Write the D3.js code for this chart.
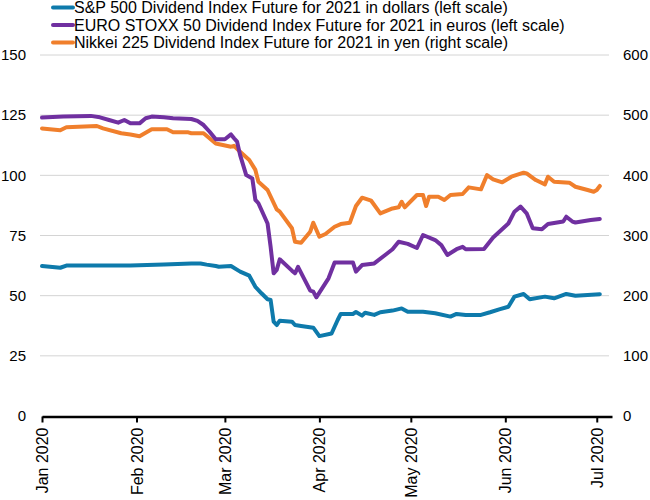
<html>
<head>
<meta charset="utf-8">
<script src="https://d3js.org/d3.v7.min.js"></script>
<style>
  body { margin: 0; background: #fff; }
  text { font-family: "Liberation Sans", Arial, sans-serif; fill: #000; }
</style>
</head>
<body>
<svg width="650" height="500"></svg>
<script>
// values: [date, value]
var spDividend = [
  ["2020-01-01",62.3],["2020-01-07",61.6],["2020-01-09",62.5],["2020-01-30",62.5],["2020-02-10",63],
  ["2020-02-19",63.4],["2020-02-22",63.4],["2020-02-24",62.9],["2020-02-27",62.3],["2020-02-28",62],
  ["2020-03-03",62.3],["2020-03-06",60],["2020-03-09",58.3],["2020-03-11",53.7],["2020-03-13",51],
  ["2020-03-15",48.5],["2020-03-16",48.2],["2020-03-17",39.2],["2020-03-18",37.8],["2020-03-19",39.6],
  ["2020-03-23",39.2],["2020-03-24",37.8],["2020-03-26",37.4],["2020-03-30",36.7],["2020-04-01",33.2],
  ["2020-04-05",34.3],["2020-04-07",39.9],["2020-04-08",42.4],["2020-04-12",42.4],["2020-04-13",43.2],
  ["2020-04-15",41.7],["2020-04-16",42.9],["2020-04-19",42],["2020-04-21",43.1],["2020-04-25",43.8],
  ["2020-04-28",44.7],["2020-04-30",43.3],["2020-05-05",43.3],["2020-05-09",42.7],["2020-05-14",41.3],
  ["2020-05-16",42.4],["2020-05-19",42],["2020-05-24",42],["2020-05-27",43.1],["2020-05-30",44.3],
  ["2020-06-02",45.4],["2020-06-04",49.6],["2020-06-07",50.7],["2020-06-09",48.5],["2020-06-14",49.6],
  ["2020-06-17",48.9],["2020-06-21",50.7],["2020-06-24",50],["2020-07-02",50.6]
];

var euroStoxx = [
  ["2020-01-01",124],["2020-01-08",124.4],["2020-01-17",124.7],["2020-01-20",124.1],["2020-01-23",123],
  ["2020-01-26",121.9],["2020-01-28",123],["2020-01-30",121.6],["2020-02-02",121.6],["2020-02-04",123.7],
  ["2020-02-06",124.4],["2020-02-10",124.1],["2020-02-13",123.7],["2020-02-19",123.4],["2020-02-21",122.6],
  ["2020-02-23",120.9],["2020-02-25",118.1],["2020-02-27",115],["2020-03-01",115],["2020-03-03",117],
  ["2020-03-04",115.4],["2020-03-05",114],["2020-03-06",108.4],["2020-03-08",100.1],["2020-03-10",98.7],
  ["2020-03-11",89.8],["2020-03-12",88.4],["2020-03-15",80],["2020-03-16",70.3],["2020-03-17",59.3],
  ["2020-03-18",60.7],["2020-03-19",65.1],["2020-03-23",60.4],["2020-03-24",59.3],["2020-03-25",62],
  ["2020-03-29",52.1],["2020-03-30",51.7],["2020-03-31",49.3],["2020-04-04",57.2],["2020-04-06",63.8],
  ["2020-04-12",63.8],["2020-04-13",60],["2020-04-15",62.7],["2020-04-19",63.4],["2020-04-23",67.3],
  ["2020-04-25",69.3],["2020-04-27",72.4],["2020-04-30",71.5],["2020-05-03",69.8],["2020-05-05",75.2],
  ["2020-05-09",73.1],["2020-05-11",71],["2020-05-13",66.9],["2020-05-16",69.3],["2020-05-18",70.3],
  ["2020-05-19",69.3],["2020-05-25",69.4],["2020-05-28",74.2],["2020-06-02",80],["2020-06-04",84.9],
  ["2020-06-06",87],["2020-06-08",84.2],["2020-06-10",78],["2020-06-13",77.6],["2020-06-15",79.8],
  ["2020-06-20",80.8],["2020-06-21",82.8],["2020-06-23",80.8],["2020-06-24",80.4],["2020-06-29",81.4],
  ["2020-07-02",81.9]
];

var nikkei = [
  ["2020-01-01",478],["2020-01-07",475],["2020-01-09",480],["2020-01-19",482],["2020-01-21",478],
  ["2020-01-27",470],["2020-01-30",468],["2020-02-02",465],["2020-02-06",476.5],["2020-02-11",476.5],
  ["2020-02-13",471.5],["2020-02-18",471.5],["2020-02-19",470],["2020-02-23",470],["2020-02-27",453],
  ["2020-03-03",447.6],["2020-03-04",449],["2020-03-06",439],["2020-03-09",425.5],["2020-03-11",409],
  ["2020-03-12",389.4],["2020-03-15",375.6],["2020-03-18",343.5],["2020-03-19",339.6],["2020-03-23",312],
  ["2020-03-24",289.7],["2020-03-26",288],["2020-03-29",306.3],["2020-03-30",321.3],["2020-04-01",298],
  ["2020-04-03",302.5],["2020-04-06",314.6],["2020-04-08",319],["2020-04-11",321.3],["2020-04-13",349],
  ["2020-04-15",362.8],["2020-04-18",357.8],["2020-04-21",336.8],["2020-04-25",345],["2020-04-27",346.8],
  ["2020-04-28",356],["2020-04-29",346.8],["2020-05-03",367.3],["2020-05-05",367.3],["2020-05-06",349],
  ["2020-05-07",364.5],["2020-05-10",364.5],["2020-05-12",359],["2020-05-14",367.3],["2020-05-18",369],
  ["2020-05-20",380],["2020-05-24",376.7],["2020-05-26",400.5],["2020-05-28",393.4],["2020-05-31",388.4],
  ["2020-06-03",397.7],["2020-06-07",404.4],["2020-06-08",403.3],["2020-06-11",392.2],["2020-06-14",385],
  ["2020-06-15",397.7],["2020-06-17",389.4],["2020-06-22",387.8],["2020-06-24",381],["2020-06-28",375.6],
  ["2020-06-30",372.8],["2020-07-01",375.6],["2020-07-02",382.3]
];

var seriesNames = [
  "S&P 500 Dividend Index Future for 2021 in dollars (left scale)",
  "EURO STOXX 50 Dividend Index Future for 2021 in euros (left scale)",
  "Nikkei 225 Dividend Index Future for 2021 in yen (right scale)"
];
var seriesColors = ["#0e7aab", "#7030a0", "#f07f2c"];
var leftTicks = [0, 25, 50, 75, 100, 125, 150];
var rightTicks = [0, 100, 200, 300, 400, 500, 600];
var monthTicks = ["2020-01-01","2020-02-01","2020-03-01","2020-04-01","2020-05-01","2020-06-01","2020-07-01"];

var parse = d3.timeParse("%Y-%m-%d");
var svg = d3.select("svg");

var x = d3.scaleTime()
  .domain([parse("2020-01-01"), parse("2020-07-06")])
  .range([42, 612]);
var yL = d3.scaleLinear().domain([0, 150]).range([416, 55]);
var yR = d3.scaleLinear().domain([0, 600]).range([416, 55]);

// gridlines
svg.append("g")
  .selectAll("line")
  .data(leftTicks.slice(1))
  .enter().append("line")
  .attr("x1", 40).attr("x2", 609)
  .attr("y1", d => yL(d)).attr("y2", d => yL(d))
  .attr("stroke", "#d4d4d4").attr("stroke-width", 1);

// left axis
svg.append("g")
  .attr("transform", "translate(26,0)")
  .call(d3.axisLeft(yL).tickValues(leftTicks).tickSize(0).tickPadding(0))
  .call(g => g.select(".domain").remove())
  .selectAll("text").attr("font-size", 15).style("font-family", "'Liberation Sans', Arial, sans-serif");

// right axis
svg.append("g")
  .attr("transform", "translate(623,0)")
  .call(d3.axisRight(yR).tickValues(rightTicks).tickSize(0).tickPadding(0))
  .call(g => g.select(".domain").remove())
  .selectAll("text").attr("font-size", 15).style("font-family", "'Liberation Sans', Arial, sans-serif");

// bottom axis
var xAxis = svg.append("g")
  .attr("transform", "translate(0,416.5)")
  .call(d3.axisBottom(x).tickValues(monthTicks.map(parse)).tickFormat(d3.timeFormat("%b %Y")).tickSize(6).tickSizeOuter(0));
xAxis.select(".domain").attr("stroke", "#000").attr("stroke-width", 2.5);
xAxis.selectAll(".tick line").attr("stroke", "#000").attr("stroke-width", 2);
xAxis.selectAll("text")
  .attr("font-size", 16)
  .style("font-family", "'Liberation Sans', Arial, sans-serif")
  .attr("transform", "rotate(-90)")
  .attr("text-anchor", "end")
  .attr("dy", "0.35em")
  .attr("x", -11).attr("y", 0);

// lines
var allSeries = [
  { data: spDividend, y: yL },
  { data: euroStoxx, y: yL },
  { data: nikkei, y: yR }
];
[2, 1, 0].forEach(function (i) {
  var s = allSeries[i];
  var line = d3.line()
    .x(d => x(parse(d[0])))
    .y(d => s.y(d[1]));
  svg.append("path")
    .datum(s.data)
    .attr("fill", "none")
    .attr("stroke", seriesColors[i])
    .attr("stroke-width", 4)
    .attr("stroke-linejoin", "round")
    .attr("stroke-linecap", "round")
    .attr("d", line);
});

// legend
var legend = svg.append("g").selectAll("g")
  .data(seriesNames)
  .enter().append("g")
  .attr("transform", (d, i) => "translate(53," + (7.5 + i * 17.5) + ")");
legend.append("line")
  .attr("x1", 0).attr("x2", 20)
  .attr("stroke", (d, i) => seriesColors[i])
  .attr("stroke-width", 4)
  .attr("stroke-linecap", "round");
legend.append("text")
  .attr("x", 21)
  .attr("dy", "0.36em")
  .attr("font-size", 16)
  .text(d => d);
</script>
</body>
</html>
